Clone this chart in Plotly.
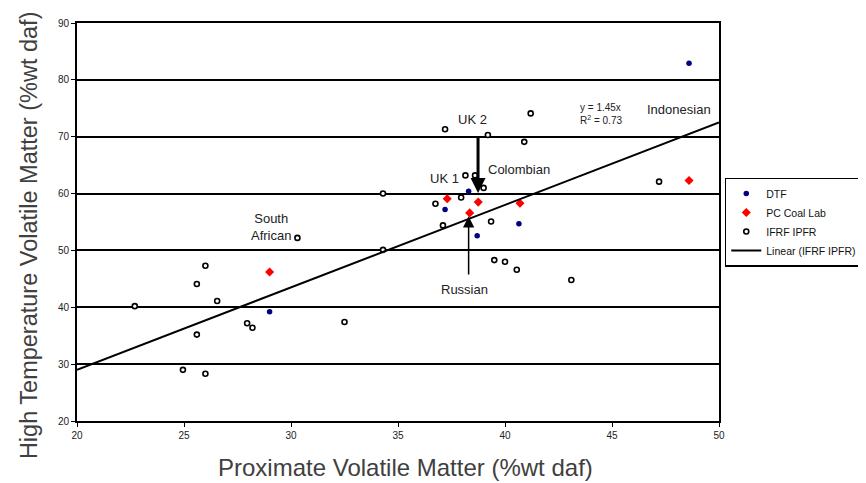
import plotly.graph_objects as go

# DTF
dtf_x = [48.6, 38.3, 37.2, 40.65, 38.7, 29.0]
dtf_y = [82.9, 60.4, 57.2, 54.7, 52.6, 39.2]
# PC Coal Lab
pc_x = [48.6, 37.3, 38.75, 40.7, 38.35, 29.0]
pc_y = [62.3, 59.1, 58.5, 58.3, 56.6, 46.2]
# IFRF IPFR
if_x = [41.2, 37.2, 39.2, 40.9, 38.15, 38.6, 39.0, 37.95, 36.75, 37.1, 39.35,
        39.5, 40.0, 40.55, 43.1, 47.2, 34.3, 34.3, 30.3, 26.0, 25.6, 22.7,
        26.55, 25.6, 27.95, 28.2, 32.5, 24.95, 26.0]
if_y = [74.1, 71.3, 70.3, 69.1, 63.2, 63.2, 61.0, 59.3, 58.2, 54.4, 55.1,
        48.3, 48.0, 46.6, 44.8, 62.1, 60.0, 50.1, 52.2, 47.3, 44.1, 40.2,
        41.1, 35.2, 37.2, 36.4, 37.4, 29.0, 28.3]
# Linear trend y = 1.45x
trend_x = [20, 50]
slope = 1.45
trend_y = [slope * v for v in trend_x]

FONT = "Liberation Sans, Arial, sans-serif"

fig = go.Figure()
fig.add_trace(go.Scatter(x=dtf_x, y=dtf_y, mode="markers", name="DTF",
                         marker=dict(color="#000080", size=5.5, symbol="circle")))
fig.add_trace(go.Scatter(x=pc_x, y=pc_y, mode="markers", name="PC Coal Lab",
                         marker=dict(color="#FF0000", size=7, symbol="diamond")))
fig.add_trace(go.Scatter(x=if_x, y=if_y, mode="markers", name="IFRF IPFR",
                         marker=dict(color="white", size=5, symbol="circle",
                                     line=dict(color="black", width=1.6))))
fig.add_trace(go.Scatter(x=trend_x, y=trend_y, mode="lines", name="Linear (IFRF IPFR)",
                         line=dict(color="black", width=2)))

# arrows
fig.add_annotation(x=38.74, y=60.1, ax=38.74, ay=70.3, xref="x", yref="y",
                   axref="x", ayref="y", showarrow=True, arrowhead=2,
                   arrowsize=1, arrowwidth=3, arrowcolor="black", text="")
fig.add_annotation(x=38.3, y=56.0, ax=38.3, ay=45.5, xref="x", yref="y",
                   axref="x", ayref="y", showarrow=True, arrowhead=2,
                   arrowsize=1.5, arrowwidth=1.5, arrowcolor="black", text="")

labels = [("UK 2", 38.5, 73.1), ("Colombian", 40.65, 64.3), ("UK 1", 37.15, 62.6),
          ("Russian", 38.1, 43.15), ("South<br>African", 29.05, 54.2),
          ("Indonesian", 48.14, 74.85)]
for t, x, y in labels:
    fig.add_annotation(x=x, y=y, text=t, showarrow=False,
                       font=dict(family=FONT, size=13, color="#222222"))
fig.add_annotation(x=44.47, y=74.05, text="y = 1.45x<br>R<sup>2</sup> = 0.73",
                   showarrow=False, align="left",
                   font=dict(family=FONT, size=10, color="#222222"))

# axis titles
fig.add_annotation(xref="paper", yref="paper", x=-0.0748, y=0.467,
                   text="High Temperature Volatile Matter (%wt daf)",
                   textangle=-90, showarrow=False, xanchor="center", yanchor="middle",
                   font=dict(family=FONT, size=23.5, color="#404040"))
fig.add_annotation(xref="paper", yref="paper", x=0.511, y=-0.117,
                   text="Proximate Volatile Matter (%wt daf)",
                   showarrow=False, xanchor="center", yanchor="middle",
                   font=dict(family=FONT, size=24, color="#404040"))

fig.update_layout(
    width=858, height=475,
    margin=dict(l=69, r=147, t=15, b=62, autoexpand=False),
    plot_bgcolor="white", paper_bgcolor="white",
    font=dict(family=FONT, color="#222222"),
    legend=dict(x=1.009, y=0.5, xanchor="left", yanchor="middle",
                bordercolor="black", borderwidth=1.5, bgcolor="white",
                font=dict(family=FONT, size=10.5, color="#111111"),
                itemwidth=30, tracegroupgap=0),
    showlegend=True,
)
fig.update_xaxes(range=[20, 50], dtick=5, showgrid=False, zeroline=False,
                 automargin=False,
                 showline=True, linecolor="black", linewidth=2, mirror=True,
                 ticks="outside", ticklen=4, tickcolor="black",
                 tickfont=dict(family=FONT, size=10, color="#222222"))
fig.update_yaxes(range=[20, 90], dtick=10, showgrid=True, gridcolor="black",
                 gridwidth=1.5, zeroline=False, automargin=False,
                 showline=True, linecolor="black", linewidth=2, mirror=True,
                 ticks="outside", ticklen=4, tickcolor="black",
                 tickfont=dict(family=FONT, size=10, color="#222222"))

fig.write_html("out.html")
